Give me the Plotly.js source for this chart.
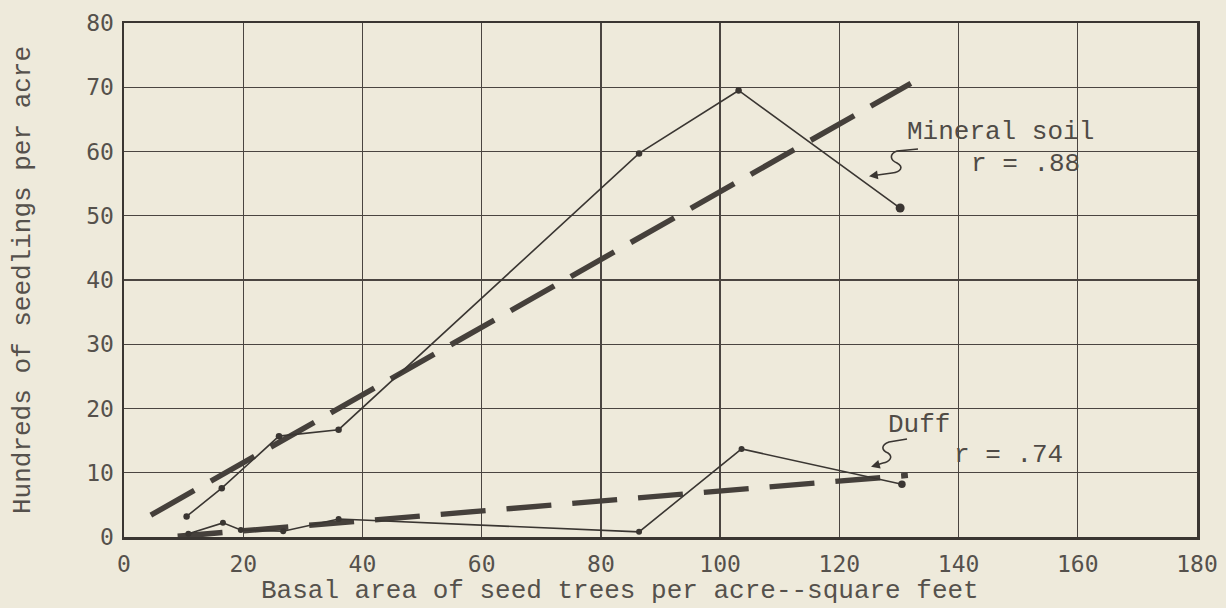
<!DOCTYPE html>
<html>
<head>
<meta charset="utf-8">
<script src="https://cdn.plot.ly/plotly-3.0.1.min.js"></script>
<style>
  html, body { margin: 0; padding: 0; background: #eeeadb; }
  #chart { width: 1226px; height: 608px; }
</style>
</head>
<body>
<div id="chart"></div>
<script>
// Mineral soil observations (basal area sq ft, hundreds of seedlings per acre)
const mineralX = [10.5, 16.4, 26.0, 36.0, 86.4, 103.1, 130.2];
const mineralY = [3.2, 7.6, 15.7, 16.7, 59.7, 69.5, 51.2];
// Duff observations
const duffX = [10.8, 16.6, 19.6, 26.7, 36.0, 86.4, 103.6, 130.5];
const duffY = [0.5, 2.2, 1.1, 0.9, 2.8, 0.8, 13.7, 8.2];
// Fitted regression lines (end points)
const mineralFitX = [4.5, 132.0];
const mineralFitY = [3.4, 70.6];
const duffFitX = [9.0, 131.5];
const duffFitY = [0.1, 9.6];
// Axis ticks
const xTicks = [0, 20, 40, 60, 80, 100, 120, 140, 160, 180];
const yTicks = [0, 10, 20, 30, 40, 50, 60, 70, 80];

const ink = '#3a3632';
const bg = '#eeeadb';
const mono = '"Liberation Mono", "DejaVu Sans Mono", monospace';
const tickFont = '"DejaVu Sans Mono", "Liberation Mono", monospace';
const textCol = '#55514c';

// plot geometry (for decorative squiggle arrows, in pixels)
const M = {l: 124, r: 29, t: 23, b: 71};
const W = 1226, H = 608;
const pw = W - M.l - M.r, ph = H - M.t - M.b;
const px2x = p => (p - M.l) / pw * 180;
const py2y = p => (H - M.b - p) / ph * 80;
function pathFromPx(cmds) {
  return cmds.map(c => {
    if (typeof c === 'string') return c;
    return px2x(c[0]).toFixed(3) + ',' + py2y(c[1]).toFixed(3);
  }).join(' ');
}
const mineralSquiggle = pathFromPx(['M', [918, 149], 'L', [897, 151], 'C', [889, 154], [890, 160], [897, 163], 'C', [904, 167], [901, 172], [892, 173], 'L', [874, 175.5]]);
const duffSquiggle = pathFromPx(['M', [907, 439], 'L', [889, 442], 'C', [881, 445], [881, 450], [888, 453], 'C', [894, 457], [889, 462], [883, 463], 'L', [875, 465.5]]);

const lastBig = (arr, big, small) => arr.map((_, i) => i === arr.length - 1 ? big : small);

const traces = [
  {
    x: mineralFitX, y: mineralFitY, mode: 'lines', name: 'Mineral soil fit',
    line: {color: '#45403b', width: 5.5, dash: '50px,19px'}, hoverinfo: 'skip'
  },
  {
    x: duffFitX, y: duffFitY, mode: 'lines', name: 'Duff fit',
    line: {color: '#45403b', width: 5.5, dash: '45px,21px'}, hoverinfo: 'skip'
  },
  {
    x: mineralX, y: mineralY, mode: 'lines+markers', name: 'Mineral soil',
    line: {color: ink, width: 1.6},
    marker: {color: ink, size: lastBig(mineralX, 9, 6.5), opacity: 1, line: {width: 0}}
  },
  {
    x: duffX, y: duffY, mode: 'lines+markers', name: 'Duff',
    line: {color: ink, width: 1.6},
    marker: {color: ink, size: lastBig(duffX, 7.5, 6), opacity: 1, line: {width: 0}}
  }
];

const layout = {
  width: W, height: H,
  margin: M,
  paper_bgcolor: bg, plot_bgcolor: bg,
  showlegend: false,
  font: {family: mono, color: textCol},
  xaxis: {
    range: [0, 180], tickvals: xTicks, ticktext: xTicks.map(String),
    showgrid: true, gridcolor: '#4a4541', gridwidth: 1.3,
    zeroline: false, showline: true, linecolor: ink, linewidth: 2.5, mirror: true,
    ticks: '', ticklabelstandoff: 5,
    tickfont: {family: tickFont, size: 23, color: textCol}
  },
  yaxis: {
    range: [0, 80], tickvals: yTicks, ticktext: yTicks.map(String),
    showgrid: true, gridcolor: '#4a4541', gridwidth: 1.3,
    zeroline: false, showline: true, linecolor: ink, linewidth: 2.5, mirror: true,
    ticks: '', ticklabelstandoff: 3,
    tickfont: {family: tickFont, size: 23, color: textCol},
    title: {text: 'Hundreds of seedlings per acre', font: {family: mono, size: 26, color: textCol}, standoff: 48}
  },
  shapes: [
    {type: 'path', xref: 'x', yref: 'y', path: mineralSquiggle, line: {color: ink, width: 1.6}},
    {type: 'path', xref: 'x', yref: 'y', path: duffSquiggle, line: {color: ink, width: 1.6}}
  ],
  annotations: [
    {x: (620 - M.l) / pw, y: 0, xref: 'paper', yref: 'paper', yshift: -54, yanchor: 'middle',
      text: 'Basal area of seed trees per acre--square feet', showarrow: false,
      font: {family: mono, size: 26, color: textCol}},
    {x: px2x(1000), y: py2y(132), xref: 'x', yref: 'y', text: 'Mineral soil', showarrow: false,
      font: {family: mono, size: 26, color: '#4f4b46'}},
    {x: px2x(1025), y: py2y(164), xref: 'x', yref: 'y', text: 'r = .88', showarrow: false,
      font: {family: mono, size: 26, color: '#4f4b46'}},
    {x: px2x(919), y: py2y(425), xref: 'x', yref: 'y', text: 'Duff', showarrow: false,
      font: {family: mono, size: 26, color: '#4f4b46'}},
    {x: px2x(1008), y: py2y(455), xref: 'x', yref: 'y', text: 'r = .74', showarrow: false,
      font: {family: mono, size: 26, color: '#4f4b46'}},
    {x: px2x(869), y: py2y(176.2), xref: 'x', yref: 'y', text: '', showarrow: true,
      arrowhead: 2, arrowsize: 1.1, arrowwidth: 1.6, arrowcolor: ink, ax: 8, ay: -1.2, standoff: 0},
    {x: px2x(871), y: py2y(466.7), xref: 'x', yref: 'y', text: '', showarrow: true,
      arrowhead: 2, arrowsize: 1.1, arrowwidth: 1.6, arrowcolor: ink, ax: 7, ay: -2, standoff: 0}
  ]
};

Plotly.newPlot('chart', traces, layout, {staticPlot: true, displayModeBar: false});
</script>
</body>
</html>
